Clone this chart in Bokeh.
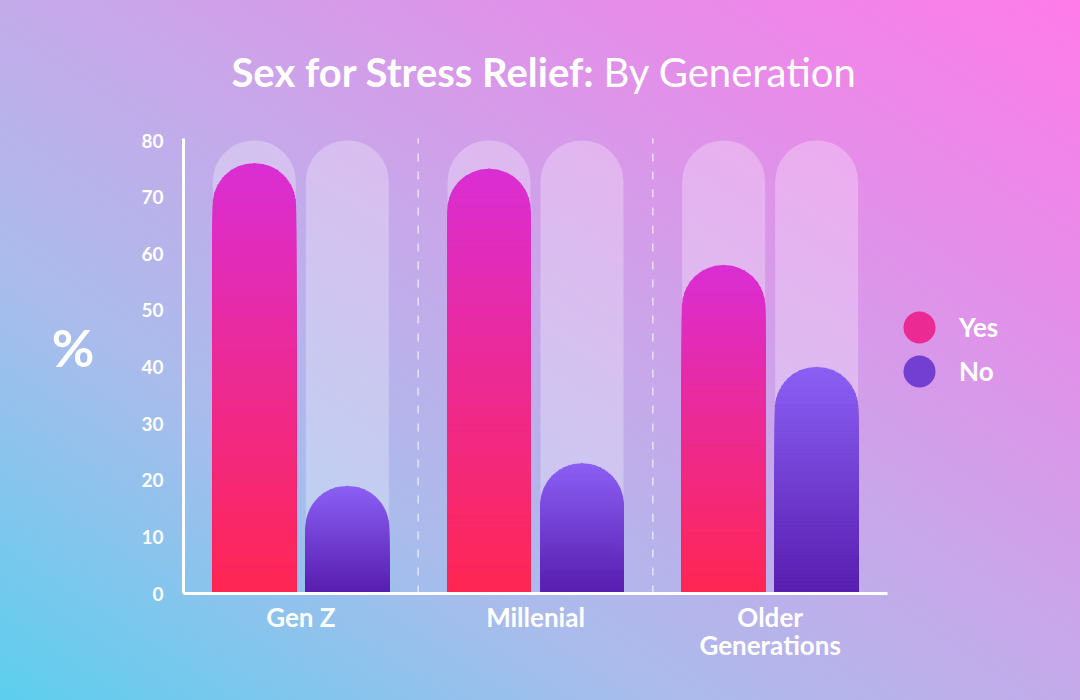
import math
from bokeh.plotting import figure
from bokeh.models import (Range1d, ColumnDataSource, Label, Legend, LegendItem, FixedTicker)
from bokeh.embed import file_html
from bokeh.resources import INLINE

# ---------------- data ----------------
generations = ["Gen Z", "Millenial", "Older Generations"]
generation_labels = ["Gen Z", "Millenial", "Older\nGenerations"]
yes_pct = [76, 75, 58]
no_pct = [19, 23, 40]
y_ticks = [0, 10, 20, 30, 40, 50, 60, 70, 80]
y_max = 80
series_names = ["Yes", "No"]
title_bold = "Sex for Stress Relief:"
title_rest = "By Generation"
y_label = "%"

# ---------------- layout / style ----------------
W, H = 1080, 700
FRAME_L, FRAME_B = 183, 593          # y-axis line x, x-axis line y (pixels)
PX_Y = (593 - 140) / 80              # pixels per percentage point
PX_X = (887 - 183) / 3               # pixels per category
Y_END = FRAME_B / PX_Y
X_END = (W - FRAME_L) / PX_X
BAR_W_PX = 83
OFF_PX = 46.5
RADIUS = 41
FONT = "Lato"

YES_TOP = (218, 46, 212)
YES_BOT = (255, 38, 82)
NO_TOP = (140, 96, 245)
NO_BOT = (88, 30, 175)


def lerp(c0, c1, t):
    t = max(0.0, min(1.0, t))
    return "#%02x%02x%02x" % tuple(int(round(a + (b - a) * t)) for a, b in zip(c0, c1))


p = figure(width=W, height=H,
           x_range=Range1d(0, X_END), y_range=Range1d(0, Y_END),
           output_backend="svg", toolbar_location=None,
           min_border_left=FRAME_L, min_border_right=0,
           min_border_top=0, min_border_bottom=H - FRAME_B)
p.title.text = ""
p.background_fill_alpha = 0
p.border_fill_alpha = 0
p.outline_line_color = None
p.grid.grid_line_color = None
p.styles = {"background": "linear-gradient(to top right, #5ccfee 0%, #a9bcec 30%, #c6a9ea 52%, #e38fe9 76%, #ff7be9 100%)"}

gen_x = [i + 0.5 for i in range(len(generations))]
bar_w = BAR_W_PX / PX_X
off = OFF_PX / PX_X

src = ColumnDataSource(dict(x=gen_x, gen=generations, yes=yes_pct, no=no_pct))

# background capsules up to the axis maximum
for o in (-off, off):
    p.vbar(x=[x + o for x in gen_x], top=y_max, bottom=0, width=bar_w,
           fill_color="white", fill_alpha=0.28, line_color=None,
           border_radius=RADIUS)

cap = RADIUS / PX_Y
N = 60


def layer_source(xs, vals, c_bot, c_top):
    lx, tops, widths, cols = [], [], [], []
    for x, v in zip(xs, vals):
        h = v - cap
        step = v / N
        for k in range(N):
            t = v - k * step
            if t <= 0:
                break
            if t > h:
                dy = (t - h) * PX_Y
                half = (BAR_W_PX / 2 - RADIUS) + math.sqrt(max(RADIUS ** 2 - dy ** 2, 0))
                w = 2 * half / PX_X
            else:
                w = bar_w
            if w <= 0.004:
                continue
            lx.append(x)
            tops.append(t)
            widths.append(w)
            cols.append(lerp(c_bot, c_top, (t - step / 2) / v))
    return ColumnDataSource(dict(x=lx, top=tops, w=widths, color=cols))


legend_renderers = []
for name, o, c_bot, c_top in (("yes", -off, YES_BOT, YES_TOP), ("no", off, NO_BOT, NO_TOP)):
    vals = src.data[name]
    xs = [x + o for x in gen_x]
    fsrc = ColumnDataSource(dict(x=xs, top=vals, color=[lerp(c_bot, c_top, 0.99)] * len(vals)))
    p.vbar(x="x", top="top", bottom=0, width=bar_w, source=fsrc,
           fill_color="color", line_color=None, border_radius=RADIUS)
    lsrc = layer_source(xs, vals, c_bot, c_top)
    p.vbar(x="x", top="top", bottom=0, width="w", source=lsrc,
           fill_color="color", line_color="color", line_width=0.5)
    # zero-size markers at the bar tops: they only provide the round legend swatch
    legend_renderers.append(
        p.scatter(x=xs, y=vals, marker="circle", size=0, line_color=None,
                  fill_color=lerp(c_bot, c_top, 0.5)))

# dashed separators between groups
seps = list(range(1, len(generations)))
p.segment(x0=seps, y0=0, x1=seps, y1=80.4, line_color="white", line_alpha=0.65,
          line_width=1.5, line_dash="8 10")

# axes
for ax in (p.xaxis, p.yaxis):
    ax.axis_line_color = "white"
    ax.axis_line_width = 3
    ax.major_tick_line_color = None
    ax.minor_tick_line_color = None
    ax.major_tick_out = 0
    ax.major_tick_in = 0
    ax.minor_tick_out = 0
    ax.major_label_text_color = "white"
    ax.major_label_text_font = FONT
    ax.major_label_text_font_style = "bold"

p.yaxis.bounds = (0, 80.4)
p.yaxis.ticker = FixedTicker(ticks=y_ticks)
p.yaxis.major_label_text_font_size = "19px"
p.yaxis.major_label_standoff = 20

p.xaxis.bounds = (0, len(generations))
p.xaxis.ticker = FixedTicker(ticks=gen_x)
p.xaxis.major_label_overrides = {x: lab for x, lab in zip(gen_x, generation_labels)}
p.xaxis.major_label_text_font_size = "26px"
p.xaxis.major_label_text_line_height = 0.88
p.xaxis.major_label_standoff = 7

yax = p.yaxis[0]
yax.axis_label = "\n" + y_label
yax.axis_label_text_color = "white"
yax.axis_label_text_font = FONT
yax.axis_label_text_font_size = "52px"
yax.axis_label_text_font_style = "bold"
yax.axis_label_text_line_height = 1.62
yax.axis_label_standoff = 44
if "axis_label_orientation" in yax.properties():
    yax.axis_label_orientation = "horizontal"

# title (bold + regular parts), inside the frame (frame spans the top area)
p.add_layout(Label(x=594 - FRAME_L, y=FRAME_B - 71, x_units="screen", y_units="screen",
                   text=title_bold, text_font=FONT, text_font_size="40px",
                   text_font_style="bold", text_color="white",
                   text_align="right", text_baseline="alphabetic"))
p.add_layout(Label(x=603 - FRAME_L, y=FRAME_B - 71, x_units="screen", y_units="screen",
                   text=title_rest, text_font=FONT, text_font_size="40px",
                   text_font_style="normal", text_color="white",
                   text_align="left", text_baseline="alphabetic"))

# legend: one single-item legend per series so that the round swatches are 32px
for name, r, cy in zip(series_names, legend_renderers, (327, 371)):
    p.add_layout(Legend(items=[LegendItem(label=name, renderers=[r])],
                        location=(879 - FRAME_L, FRAME_B - (cy + 40)),
                        glyph_width=80, glyph_height=80, label_standoff=0,
                        padding=0, margin=0, border_line_color=None,
                        background_fill_alpha=0,
                        label_text_color="white", label_text_font=FONT,
                        label_text_font_size="26px", label_text_font_style="bold"))

open("out.html", "w").write(file_html(p, INLINE))
